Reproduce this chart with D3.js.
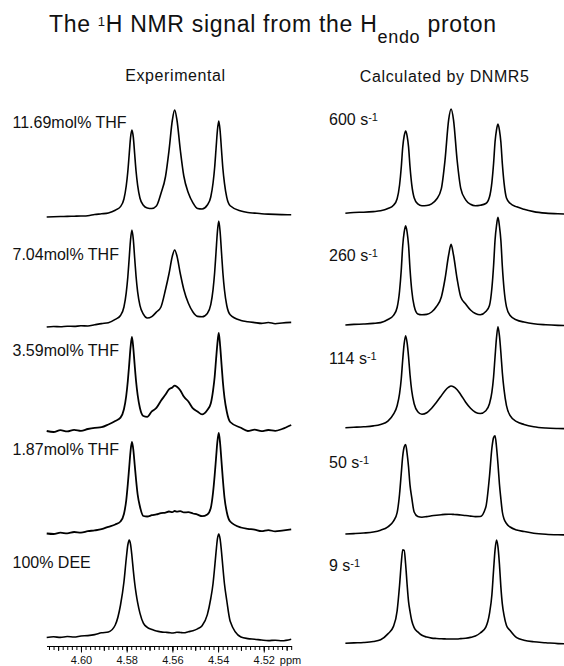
<!DOCTYPE html>
<html>
<head>
<meta charset="utf-8">
<script src="https://cdn.jsdelivr.net/npm/d3@7"></script>
<style>
  body { margin: 0; background: #fff; }
  svg { display: block; font-family: "Liberation Sans", Arial, Helvetica, sans-serif; }
  text { white-space: pre; fill: #111; }
</style>
</head>
<body>
<svg id="chart"></svg>
<script>
// chemical shift grids (ppm) for the two columns
const leftPpm = [4.615, 4.612, 4.609, 4.606, 4.603, 4.600, 4.597, 4.594, 4.591, 4.588, 4.585,
  4.5827, 4.5812, 4.5802, 4.5795, 4.5789, 4.5783, 4.5777, 4.5771, 4.5765, 4.5759, 4.5752, 4.5742, 4.5727,
  4.5710, 4.5690, 4.5670, 4.5650, 4.5630, 4.5615, 4.5600, 4.5590, 4.5580, 4.5565, 4.5550, 4.5530, 4.5510, 4.5490, 4.5470,
  4.5447, 4.5432, 4.5422, 4.5415, 4.5409, 4.5403, 4.5397, 4.5391, 4.5385, 4.5379, 4.5372, 4.5362, 4.5347,
  4.530, 4.527, 4.524, 4.521, 4.518, 4.515, 4.512, 4.508];

const rightPpm = [4.6025, 4.5990, 4.5950, 4.5910, 4.5880, 4.5850,
  4.5827, 4.5812, 4.5802, 4.5795, 4.5789, 4.5783, 4.5777, 4.5771, 4.5765, 4.5759, 4.5752, 4.5742, 4.5727,
  4.5710, 4.5690, 4.5670, 4.5650, 4.5630, 4.5615, 4.5600, 4.5590, 4.5580, 4.5565, 4.5550, 4.5530, 4.5510, 4.5490, 4.5470,
  4.5447, 4.5432, 4.5422, 4.5415, 4.5409, 4.5403, 4.5397, 4.5391, 4.5385, 4.5379, 4.5372, 4.5362, 4.5347,
  4.5320, 4.5290, 4.5250, 4.5200, 4.5150, 4.5100];

// experimental intensities (arbitrary units)
const exp1169 = [0, 0.3, 0.5, 0.6, 0.8, 1.0, 1.3, 2.5, 3.2, 4.1, 6.8,
  10.4, 18, 31, 45.5, 62.5, 79.6, 87, 79.8, 63, 46, 31.6, 19, 11.8,
  9.1, 8.5, 11, 23.6, 40.5, 66, 97, 107, 97, 66.5, 41, 24, 14.2, 8.5, 8,
  12, 20, 34, 49.5, 68, 86.5, 96, 86, 67, 48.5, 33.7, 19.6, 11.2,
  6, 4.5, 3.9, 3.3, 2.9, 2.6, 2.4, 2.2];
const exp704 = [0, 0.5, 0.2, 0.8, 0.6, 1.2, 1.0, 2.2, 3.4, 4.3, 7.6,
  11.5, 20, 34.2, 50, 68.7, 87.5, 97, 87.7, 69, 50.8, 35.2, 21.7, 12.8,
  9.0, 10.4, 14.9, 20, 37.5, 53, 71, 77, 71, 53, 37.5, 23.7, 15, 10.6, 10.2,
  13.6, 22.4, 37.4, 54.5, 74.7, 95, 106, 95, 74.5, 54.3, 37, 21.5, 12.3,
  6.6, 5.3, 4.4, 3.6, 4.5, 3.3, 4.0, 4.6];
const exp359 = [1, 0, 1.8, 0.6, 2.2, 1.2, 3.0, 4.2, 4.8, 7.5, 11,
  14.4, 22.8, 36, 51, 67.4, 84.8, 95, 84, 67, 51, 37, 24, 16,
  15.2, 20.6, 24.1, 31.2, 37.4, 42.6, 44.5, 46.3, 45.2, 41.6, 35.4, 30.5, 23.6, 20.4, 17.6,
  22, 28.5, 41.4, 55, 72, 88.4, 99, 86.4, 68, 50, 34.4, 20.5, 10,
  4.2, 1.0, 2.3, 0.8, 2.0, 1.2, 3.0, 7];
const exp187 = [1.5, 1.0, 2.3, 1.6, 3.0, 2.4, 3.8, 4.6, 5.8, 8.2, 10.5,
  13.5, 21, 34.5, 51, 67.5, 84, 93, 85.5, 70.5, 55.5, 40.5, 28.5, 19,
  18.5, 19.8, 20.6, 21.9, 22.4, 23.5, 22.8, 24.0, 23.3, 23.9, 22.6, 22.8, 21.5, 20.4, 18.8,
  20.5, 27, 42.5, 59.5, 76.5, 93.5, 102, 91.5, 73.5, 55.5, 37.5, 23, 13.5,
  7.5, 6.2, 5.4, 3.8, 4.9, 3.6, 4.4, 5.6];
const expDEE = [0.5, 1.2, 0.6, 1.5, 1.0, 2.0, 2.4, 3.4, 5.2, 6.0, 13,
  33, 56, 79, 93, 98, 93.7, 82, 67.6, 55, 44.8, 35.3, 24.9, 14.9,
  10.7, 8.6, 6.9, 6.1, 5.7, 5.4, 5.0, 5.3, 5.8, 5.5, 5.2, 6.3, 7.2, 9.1, 12.2,
  23.4, 39.5, 54.5, 70.6, 85.6, 98.9, 104, 98.8, 86.2, 70.7, 54, 37.5, 16.8,
  1.0, -0.6, -1.2, -2.0, -2.6, -2.2, -2.8, -1.3];

// DNMR5 simulated intensities
const calc600 = [0, 0.8, 1.1, 1.7, 2.5, 4.7,
  8, 14.6, 28.3, 46, 66, 77.4, 82.3, 77.5, 66.4, 46.5, 29, 15.6, 9.4,
  7.6, 7.8, 9.5, 14, 24.7, 53, 93.4, 104.3, 93.5, 52.8, 24.7, 13.5, 9, 7.5, 8,
  9.8, 16.3, 31, 50, 71.5, 83.5, 89.3, 83.2, 71, 49.5, 30.4, 15.3, 10,
  6.5, 4, 1.7, 0.2, -0.5, -0.8];
const calc260 = [0, 0.6, 1.0, 1.6, 2.4, 5.5,
  9.6, 17.5, 34, 55, 79.3, 92.8, 99.3, 93, 79.7, 56, 35, 19, 11.1,
  10.3, 10.6, 13, 18.5, 28, 46, 70, 80.7, 70, 46, 28, 21, 15, 11.5, 10.2,
  13.5, 19.6, 37, 59.5, 85, 99.5, 107.7, 99, 84.5, 58.5, 36, 18.1, 9.5,
  5, 3, 1.2, 0.2, -0.4, -0.7];
const calc114 = [0, 0.4, 0.9, 1.8, 3.3, 6.5,
  13.5, 22, 34, 49, 68, 84, 92, 85, 71, 53, 37, 24, 16,
  13.5, 15, 19.5, 25.5, 32, 37, 40.5, 41.7, 41, 38, 33, 25.5, 19.5, 15.5, 14.2,
  17, 24, 35.5, 51, 71, 90, 101, 92, 75, 55, 38, 22, 12,
  6, 3.3, 1.0, -0.3, -0.8, -1.0];
const calc50 = [0, 0.4, 1.0, 2.0, 3.8, 7.2,
  12.8, 21.4, 40, 60.5, 77.8, 87, 89.5, 80.6, 67, 48.8, 36.7, 22, 17.5,
  16.8, 17.4, 18.2, 18.8, 19.3, 19.6, 19.7, 19.7, 19.6, 19.4, 19.0, 18.5, 17.9, 17.4, 17.5,
  27, 57.5, 86, 96.4, 98.3, 87, 70, 50, 35, 22, 15, 10.5, 7,
  4, 2.5, 0.8, -0.3, -0.8, -1.0];
const calc9 = [0, 0.4, 0.8, 1.8, 3.5, 9.4,
  16.9, 32.5, 58, 80, 93.5, 93, 79, 59, 41.7, 32, 22.8, 15.6, 11.4,
  8.0, 6.2, 5.2, 4.8, 4.5, 4.4, 4.3, 4.3, 4.3, 4.3, 4.7, 5.1, 5.9, 7.2, 10.3,
  16.2, 29.6, 48.6, 73.6, 93.5, 103.3, 96.5, 79.3, 56.2, 39.1, 28, 17.9, 12.7,
  5.6, 3.1, 1.5, 0.6, -0.3, -0.6];

const expLabels = ["11.69mol% THF", "7.04mol% THF", "3.59mol% THF", "1.87mol% THF", "100% DEE"];
const rateLabels = ["600", "260", "114", "50", "9"];
const tickLabels = [4.60, 4.58, 4.56, 4.54, 4.52];

class StackedSpectra {

  constructor( config ) {
    this.config = {
      parent: config.parent,
      width: config.width || 564,
      height: config.height || 666,
      leftBase: [217, 327, 432, 535, 638],
      rightBase: [213.3, 325, 427.7, 534, 643.3],
      leftLabelY: [128.3, 260, 356, 455, 568],
      rightLabelY: [125, 260.7, 364, 468.3, 570.7],
      axisY: 646
    }
    this.init();
  }

  init(){
    let self = this;

    self.svg = d3.select( self.config.parent )
        .attr('width', self.config.width)
        .attr('height', self.config.height);

    self.xleft = d3.scaleLinear()
        .domain([4.615, 4.508])
        .range([46.7, 291.2]);

    self.xright = d3.scaleLinear()
        .domain([4.615, 4.508])
        .range([315, 575]);

    // intensity -> pixel offset above each row's baseline
    self.yscale = d3.scaleLinear()
        .domain([0, 100])
        .range([0, -100]);
  }

  render(){
    let self = this;
    const cfg = self.config;

    // title
    const title = self.svg.append('text')
        .attr('x', 49)
        .attr('y', 31.7)
        .attr('font-size', 23)
        .attr('letter-spacing', 0.7);
    title.append('tspan').text('The ');
    title.append('tspan').attr('font-size', 13).attr('dy', -6).text('1');
    title.append('tspan').attr('dy', 6).text('H NMR signal from the H');
    title.append('tspan').attr('font-size', 18).attr('dy', 11).text('endo');
    title.append('tspan').attr('dy', -11).text(' proton');

    self.svg.append('text')
        .attr('x', 175.5).attr('y', 81)
        .attr('text-anchor', 'middle')
        .attr('font-size', 16).attr('letter-spacing', 0.6)
        .text('Experimental');

    self.svg.append('text')
        .attr('x', 444.7).attr('y', 81.7)
        .attr('text-anchor', 'middle')
        .attr('font-size', 16).attr('letter-spacing', 0.6)
        .text('Calculated by DNMR5');

    const expSeries = [exp1169, exp704, exp359, exp187, expDEE];
    const calcSeries = [calc600, calc260, calc114, calc50, calc9];

    const lineFor = (xs, ppm) => d3.line()
        .x((d, i) => xs(ppm[i]))
        .y(d => self.yscale(d))
        .curve(d3.curveMonotoneX);

    const leftLine = lineFor(self.xleft, leftPpm);
    const rightLine = lineFor(self.xright, rightPpm);

    expSeries.forEach((s, i) => {
      self.svg.append('g')
          .attr('transform', `translate(0, ${cfg.leftBase[i]})`)
          .append('path')
          .attr('d', leftLine(s))
          .attr('fill', 'none')
          .attr('stroke', '#000')
          .attr('stroke-width', i == 2 || i == 3 ? 1.8 : 1.6)
          .attr('stroke-linejoin', 'round');

      self.svg.append('text')
          .attr('x', 12.5).attr('y', cfg.leftLabelY[i])
          .attr('font-size', 16)
          .text(expLabels[i]);
    });

    calcSeries.forEach((s, i) => {
      self.svg.append('g')
          .attr('transform', `translate(0, ${cfg.rightBase[i]})`)
          .append('path')
          .attr('d', rightLine(s))
          .attr('fill', 'none')
          .attr('stroke', '#000')
          .attr('stroke-width', 1.6)
          .attr('stroke-linejoin', 'round');

      const t = self.svg.append('text')
          .attr('x', 329).attr('y', cfg.rightLabelY[i])
          .attr('font-size', 16);
      t.append('tspan').text(rateLabels[i] + ' s');
      t.append('tspan').attr('font-size', 11).attr('dy', -4).text('-1');
    });

    // ppm axis under the experimental column
    const minor = d3.axisBottom(self.xleft).ticks(50).tickSize(4).tickFormat('').tickSizeOuter(0);
    const mid = d3.axisBottom(self.xleft).ticks(10).tickSize(5).tickFormat('').tickSizeOuter(0);
    const major = d3.axisBottom(self.xleft)
        .tickValues(tickLabels)
        .tickSize(6.5)
        .tickSizeOuter(0)
        .tickFormat(d3.format('.2f'));

    [minor, mid, major].forEach(ax => {
      const g = self.svg.append('g')
          .attr('transform', `translate(0, ${cfg.axisY})`)
          .call(ax);
      g.selectAll('line').attr('stroke', '#000').attr('stroke-width', 1);
      g.select('.domain').attr('stroke', '#000').attr('stroke-width', 1.2);
      g.selectAll('text')
          .attr('font-size', 11)
          .attr('font-family', '"Liberation Sans", Arial, sans-serif')
          .attr('fill', '#111')
          .attr('dy', null)
          .attr('y', 18);
    });

    self.svg.append('text')
        .attr('x', self.xleft(4.52) + 16)
        .attr('y', cfg.axisY + 18)
        .attr('font-size', 11)
        .text('ppm');
  }
}

const chart = new StackedSpectra({ parent: '#chart', width: 564, height: 666 });
chart.render();
</script>
</body>
</html>
